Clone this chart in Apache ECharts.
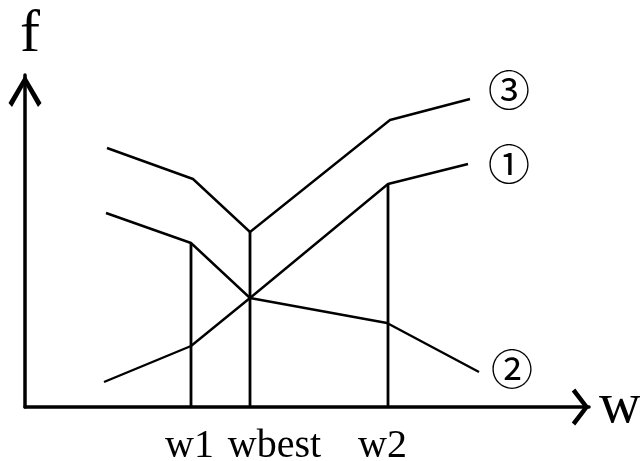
<!DOCTYPE html>
<html><head><meta charset="utf-8">
<script src="https://cdn.jsdelivr.net/npm/echarts@6/dist/echarts.min.js"></script>
<style>html,body{margin:0;padding:0;background:#fff}#c{width:640px;height:461px}</style>
</head><body><div id="c"></div>
<script>
// curve values (x: position along w, y: f value)
const curve3X = [82, 168, 225, 365, 445];
const curve3Y = [259, 228, 175, 287, 308];
const curve2X = [81, 166, 225, 362, 454];
const curve2Y = [194, 164, 109, 84, 35];
const curve1X = [79, 166, 225, 363, 443];
const curve1Y = [25, 61, 109, 223, 243];
const curveNames = ['③', '②', '①'];
// vertical marker lines at w1, wbest, w2
const markX = [166, 225, 363];
const markTop = [164, 175, 223];
// x tick labels and their positions
const tickLabels = ['w1', 'wbest', 'w2'];
const tickLabelPos = [164.5, 249.5, 357.5];
const axisNames = ['w', 'f'];

const zip = (xs, ys) => xs.map((x, i) => [x, ys[i]]);
const curves = [zip(curve3X, curve3Y), zip(curve2X, curve2Y), zip(curve1X, curve1Y)];
const labelOffsets = [[18, -9], [12, -3], [20, 0]];

const series = curves.map((d, i) => ({
  type: 'line', data: d, symbol: 'none', silent: true,
  lineStyle: { color: '#000', width: 2.4 },
  endLabel: {
    show: true, formatter: curveNames[i], distance: 0, offset: labelOffsets[i],
    fontFamily: 'Noto Sans CJK JP', fontSize: 42, color: '#000'
  }
}));
markX.forEach((x, i) => {
  series.push({
    type: 'line', data: [[x, 0], [x, markTop[i]]], symbol: 'none', silent: true,
    lineStyle: { color: '#000', width: 2.8 }
  });
});

const chart = echarts.init(document.getElementById('c'), null, { renderer: 'canvas' });
chart.setOption({
  animation: false,
  backgroundColor: '#fff',
  grid: { left: 25, top: 75, right: 51, bottom: 54, outerBoundsMode: 'none', containLabel: false },
  xAxis: {
    type: 'value', min: 0, max: 564,
    name: axisNames[0], nameLocation: 'end', nameGap: 10,
    nameTextStyle: { fontFamily: 'Liberation Serif', fontSize: 58, color: '#000', verticalAlign: 'middle', padding: [1, 0, 0, 0] },
    axisLine: {
      lineStyle: { color: '#000', width: 3.5 },
      symbol: ['none', 'path://M18.5,0 L37,14 L34,17.5 L18.5,5.5 L3,17.5 L0,14 Z'],
      symbolSize: [37, 17.5], symbolOffset: [0, -8.5]
    },
    axisTick: { show: false }, splitLine: { show: false },
    axisLabel: {
      customValues: tickLabelPos,
      formatter: v => tickLabels[tickLabelPos.indexOf(v)] || '',
      fontFamily: 'Liberation Serif', fontSize: 40, color: '#000', margin: 19
    }
  },
  yAxis: {
    type: 'value', min: 0, max: 332,
    name: axisNames[1], nameLocation: 'end', nameGap: 10,
    nameTextStyle: { fontFamily: 'Liberation Serif', fontSize: 60, color: '#000', padding: [0, 0, 0, 10] },
    axisLine: {
      lineStyle: { color: '#000', width: 3.5 },
      symbol: ['none', 'path://M16.5,0 L33,28 L29.5,32 L16.5,9 L3.5,32 L0,28 Z'],
      symbolSize: [33, 32], symbolOffset: [0, -16]
    },
    axisTick: { show: false }, splitLine: { show: false }, axisLabel: { show: false }
  },
  series: series
});
</script></body></html>
